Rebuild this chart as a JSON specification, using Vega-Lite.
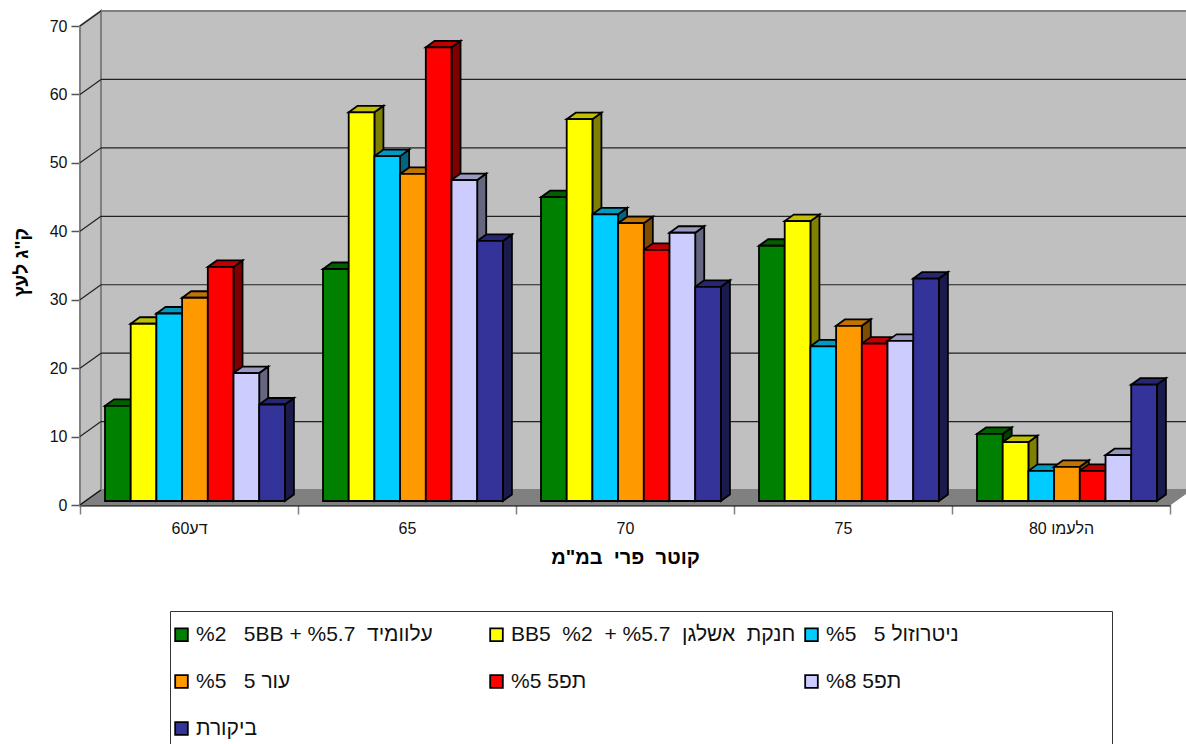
{
  "$schema": "https://vega.github.io/schema/vega-lite/v6.json",
  "autosize": "none",
  "padding": {"left": 80, "top": 26, "right": 16, "bottom": 239},
  "width": 1090,
  "height": 479,
  "background": "white",
  "config": {"view": {"stroke": null}, "font": "Liberation Sans"},
  "datasets": {
    "yields": [
      {"category": "60דע", "series": "a", "value": 13.9},
      {"category": "60דע", "series": "b", "value": 25.9},
      {"category": "60דע", "series": "c", "value": 27.4},
      {"category": "60דע", "series": "d", "value": 29.7},
      {"category": "60דע", "series": "e", "value": 34.2},
      {"category": "60דע", "series": "f", "value": 18.7},
      {"category": "60דע", "series": "g", "value": 14.1},
      {"category": "65", "series": "a", "value": 33.9},
      {"category": "65", "series": "b", "value": 56.8},
      {"category": "65", "series": "c", "value": 50.4},
      {"category": "65", "series": "d", "value": 47.8},
      {"category": "65", "series": "e", "value": 66.3},
      {"category": "65", "series": "f", "value": 46.9},
      {"category": "65", "series": "g", "value": 38.0},
      {"category": "70", "series": "a", "value": 44.4},
      {"category": "70", "series": "b", "value": 55.8},
      {"category": "70", "series": "c", "value": 41.9},
      {"category": "70", "series": "d", "value": 40.6},
      {"category": "70", "series": "e", "value": 36.7},
      {"category": "70", "series": "f", "value": 39.2},
      {"category": "70", "series": "g", "value": 31.3},
      {"category": "75", "series": "a", "value": 37.3},
      {"category": "75", "series": "b", "value": 40.9},
      {"category": "75", "series": "c", "value": 22.6},
      {"category": "75", "series": "d", "value": 25.6},
      {"category": "75", "series": "e", "value": 23.0},
      {"category": "75", "series": "f", "value": 23.4},
      {"category": "75", "series": "g", "value": 32.5},
      {"category": "80 הלעמו", "series": "a", "value": 9.8},
      {"category": "80 הלעמו", "series": "b", "value": 8.6},
      {"category": "80 הלעמו", "series": "c", "value": 4.4},
      {"category": "80 הלעמו", "series": "d", "value": 5.0},
      {"category": "80 הלעמו", "series": "e", "value": 4.4},
      {"category": "80 הלעמו", "series": "f", "value": 6.7},
      {"category": "80 הלעמו", "series": "g", "value": 17.0}
    ],
    "ticks": [
      {"tick": 10}, {"tick": 20}, {"tick": 30}, {"tick": 40}, {"tick": 50}, {"tick": 60}, {"tick": 70}
    ],
    "edges": [{"edge": 0}, {"edge": 1}]
  },
  "layer": [
    {
      "data": {"name": "edges"},
      "transform": [
        {"calculate": "datum.edge * 0.0963", "as": "px"},
        {"calculate": "70 + datum.edge * 2.19", "as": "top"},
        {"calculate": "datum.edge * 2.19", "as": "bot"}
      ],
      "mark": {"type": "area", "fill": "#c0c0c0", "stroke": "#808080", "strokeWidth": 2, "clip": false},
      "encoding": {
        "x": {
          "field": "px", "type": "quantitative",
          "scale": {"domain": [0, 5], "nice": false, "zero": false},
          "axis": {
            "values": [0, 1, 2, 3, 4, 5],
            "labelExpr": "['60דע','65','70','75','80 הלעמו',''][datum.value]",
            "labelOffset": 109,
            "labelFontSize": 16,
            "labelColor": "#111111",
            "labelAngle": 0,
            "labelPadding": 6,
            "labelBound": false,
            "labelFlush": false,
            "labelOverlap": false,
            "grid": false,
            "domainColor": "#000000",
            "domainWidth": 2,
            "tickColor": "#808080",
            "tickWidth": 1.5,
            "tickSize": 9,
            "title": "קוטר\u00a0\u00a0פרי\u00a0\u00a0במ\"מ",
            "titleFontSize": 20,
            "titleFontWeight": "bold",
            "titleColor": "#000000",
            "titlePadding": 11
          }
        },
        "y": {
          "field": "top", "type": "quantitative",
          "scale": {"domain": [0, 70], "nice": false, "zero": false},
          "axis": {
            "values": [0, 10, 20, 30, 40, 50, 60, 70],
            "labelFontSize": 16,
            "labelColor": "#111111",
            "labelPadding": 4,
            "grid": false,
            "domainColor": "#808080",
            "domainWidth": 2,
            "tickColor": "#555555",
            "tickWidth": 1.5,
            "tickSize": 9,
            "title": "ק\"ג לעץ",
            "titleFontSize": 19,
            "titleFontWeight": "bold",
            "titleColor": "#000000",
            "titlePadding": 18,
            "titleY": 236
          }
        },
        "y2": {"field": "bot"}
      }
    },
    {
      "data": {"name": "edges"},
      "transform": [
        {"filter": "datum.edge === 0"},
        {"calculate": "0.0963", "as": "x0"},
        {"calculate": "5.0963", "as": "x1"},
        {"calculate": "2.19", "as": "y0"},
        {"calculate": "72.19", "as": "y1"}
      ],
      "mark": {"type": "rect", "fill": "#c0c0c0", "stroke": "#808080", "strokeWidth": 2},
      "encoding": {
        "x": {"field": "x0", "type": "quantitative"},
        "x2": {"field": "x1"},
        "y": {"field": "y0", "type": "quantitative"},
        "y2": {"field": "y1"}
      }
    },
    {
      "data": {"name": "edges"},
      "transform": [
        {"calculate": "datum.edge * 2.19", "as": "fy"},
        {"calculate": "datum.edge * 0.0963", "as": "fx0"},
        {"calculate": "5 + datum.edge * 0.0963", "as": "fx1"}
      ],
      "mark": {"type": "area", "orient": "horizontal", "fill": "#808080", "stroke": "#808080", "strokeWidth": 1},
      "encoding": {
        "y": {"field": "fy", "type": "quantitative"},
        "x": {"field": "fx0", "type": "quantitative"},
        "x2": {"field": "fx1"}
      }
    },
    {
      "data": {"name": "ticks"},
      "transform": [
        {"filter": "datum.tick < 70"},
        {"calculate": "datum.tick + 2.19", "as": "gy"},
        {"calculate": "0.0963", "as": "gx0"},
        {"calculate": "5.0963", "as": "gx1"}
      ],
      "mark": {"type": "rule", "stroke": "#222222", "strokeWidth": 1.2},
      "encoding": {
        "y": {"field": "gy", "type": "quantitative"},
        "x": {"field": "gx0", "type": "quantitative"},
        "x2": {"field": "gx1"}
      }
    },
    {
      "data": {"name": "ticks"},
      "transform": [
        {"calculate": "[0, 1]", "as": "edge"},
        {"flatten": ["edge"]},
        {"calculate": "datum.edge * 0.0963", "as": "dx"},
        {"calculate": "datum.tick + datum.edge * 2.19", "as": "dy"}
      ],
      "mark": {"type": "line", "stroke": "#222222", "strokeWidth": 1.2},
      "encoding": {
        "x": {"field": "dx", "type": "quantitative"},
        "y": {"field": "dy", "type": "quantitative"},
        "detail": {"field": "tick"}
      }
    },
    {
      "data": {"name": "edges"},
      "transform": [
        {"calculate": "datum.edge * 0.0963", "as": "dx"},
        {"calculate": "datum.edge * 2.19", "as": "dy"}
      ],
      "mark": {"type": "line", "stroke": "#111111", "strokeWidth": 1.2},
      "encoding": {
        "x": {"field": "dx", "type": "quantitative"},
        "y": {"field": "dy", "type": "quantitative"}
      }
    },
    {
      "data": {"name": "yields"},
      "transform": [
        {"calculate": "indexof(['60דע','65','70','75','80 הלעמו'], datum.category)", "as": "g"},
        {"calculate": "indexof(['a','b','c','d','e','f','g'], datum.series)", "as": "s"},
        {"calculate": "datum.g + 0.1147 + datum.s * 0.1179", "as": "left"},
        {"calculate": "[0, 1]", "as": "edge"},
        {"flatten": ["edge"]},
        {"calculate": "datum.left + 0.1179 + datum.edge * 0.0413", "as": "sx"},
        {"calculate": "datum.value + 0.585 + datum.edge * 0.95", "as": "sy1"},
        {"calculate": "0.585 + datum.edge * 0.95", "as": "sy0"},
        {"calculate": "datum.category + datum.series", "as": "bar"}
      ],
      "mark": {"type": "area", "stroke": "#000000", "strokeWidth": 1.8},
      "encoding": {
        "x": {"field": "sx", "type": "quantitative"},
        "y": {"field": "sy1", "type": "quantitative"},
        "y2": {"field": "sy0"},
        "detail": {"field": "bar"},
        "fill": {
          "field": "series", "type": "nominal", "legend": null,
          "scale": {"domain": ["a", "b", "c", "d", "e", "f", "g"], "range": ["#004000", "#808000", "#006680", "#804d00", "#800000", "#666680", "#1a1a4d"]}
        }
      }
    },
    {
      "data": {"name": "yields"},
      "transform": [
        {"calculate": "indexof(['60דע','65','70','75','80 הלעמו'], datum.category)", "as": "g"},
        {"calculate": "indexof(['a','b','c','d','e','f','g'], datum.series)", "as": "s"},
        {"calculate": "datum.g + 0.1147 + datum.s * 0.1179", "as": "left"},
        {"calculate": "[0, 1]", "as": "edge"},
        {"flatten": ["edge"]},
        {"calculate": "datum.left + datum.edge * 0.0413", "as": "tx0"},
        {"calculate": "datum.left + 0.1179 + datum.edge * 0.0413", "as": "tx1"},
        {"calculate": "datum.value + 0.585 + datum.edge * 0.95", "as": "ty"},
        {"calculate": "datum.category + datum.series", "as": "bar"}
      ],
      "mark": {"type": "area", "orient": "horizontal", "stroke": "#000000", "strokeWidth": 1.8},
      "encoding": {
        "y": {"field": "ty", "type": "quantitative"},
        "x": {"field": "tx0", "type": "quantitative"},
        "x2": {"field": "tx1"},
        "detail": {"field": "bar"},
        "fill": {
          "field": "series", "type": "nominal", "legend": null,
          "scale": {"domain": ["a", "b", "c", "d", "e", "f", "g"], "range": ["#006000", "#c0c000", "#0099c0", "#c07300", "#c00000", "#9999c0", "#262673"]}
        }
      }
    },
    {
      "data": {"name": "yields"},
      "transform": [
        {"calculate": "indexof(['60דע','65','70','75','80 הלעמו'], datum.category)", "as": "g"},
        {"calculate": "indexof(['a','b','c','d','e','f','g'], datum.series)", "as": "s"},
        {"calculate": "datum.g + 0.1147 + datum.s * 0.1179", "as": "left"},
        {"calculate": "datum.left + 0.1179", "as": "right"},
        {"calculate": "datum.value + 0.585", "as": "fronttop"},
        {"calculate": "0.585", "as": "frontbot"}
      ],
      "mark": {"type": "rect", "stroke": "#000000", "strokeWidth": 1.8},
      "encoding": {
        "x": {"field": "left", "type": "quantitative"},
        "x2": {"field": "right"},
        "y": {"field": "fronttop", "type": "quantitative"},
        "y2": {"field": "frontbot"},
        "fill": {
          "field": "series", "type": "nominal",
          "scale": {"domain": ["a", "b", "c", "d", "e", "f", "g"], "range": ["#008000", "#ffff00", "#00ccff", "#ff9900", "#ff0000", "#ccccff", "#333399"]},
          "legend": {
            "orient": "none",
            "legendX": 90,
            "legendY": 585,
            "direction": "horizontal",
            "columns": 3,
            "gridAlign": "all",
            "title": " ",
            "titleFontSize": 1,
            "titlePadding": 5,
            "symbolType": "square",
            "symbolSize": 160,
            "symbolOffset": -6,
            "symbolStrokeColor": "#000000",
            "symbolStrokeWidth": 1.8,
            "labelFontSize": 21,
            "labelColor": "#111111",
            "labelLimit": 400,
            "labelOffset": 4,
            "rowPadding": 25,
            "columnPadding": 5,
            "padding": 7,
            "strokeColor": "#333333",
            "fillColor": "#ffffff",
            "labelExpr": "{'a':'%2\u00a0\u00a0\u00a05BB\u00a0+\u00a0%5.7\u00a0\u00a0עלוומיד','b':'BB5\u00a0\u00a0%2\u00a0\u00a0+\u00a0%5.7\u00a0\u00a0חנקת\u00a0\u00a0אשלגן','c':'%5\u00a0\u00a0\u00a05\u00a0ניטרוזול\u00a0\u00a0\u00a0\u00a0\u00a0\u00a0\u00a0\u00a0\u00a0\u00a0\u00a0\u00a0\u00a0\u00a0\u00a0\u00a0\u00a0\u00a0\u00a0\u00a0\u00a0\u00a0\u00a0\u00a0\u00a0\u200b','d':'%5\u00a0\u00a0\u00a05\u00a0עור','e':'%5\u00a05תפ','f':'%8\u00a05תפ','g':'ביקורת'}[datum.label]"
          }
        }
      }
    }
  ],
  "resolve": {"scale": {"fill": "independent"}}
}
